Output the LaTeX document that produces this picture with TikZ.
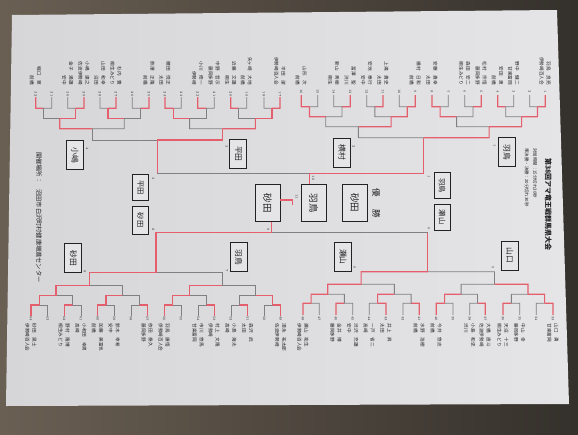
\documentclass[tikz,border=0pt]{standalone}
\usepackage{fontspec}
\newfontfamily\jp{Noto Sans CJK JP}
\usetikzlibrary{calc}
\definecolor{woodL}{HTML}{6A5F53}
\definecolor{woodR}{HTML}{34302B}
\definecolor{paperL}{HTML}{D6D6D9}
\definecolor{paperR}{HTML}{E5E5E8}
\definecolor{redl}{HTML}{E45E6C}
\definecolor{grayl}{HTML}{808083}
\definecolor{ink}{HTML}{222224}
\tikzset{
  win/.style={draw=redl,line width=1.15pt},
  lose/.style={draw=grayl,line width=0.85pt},
  nm/.style={font=\jp\fontsize{4.6}{5}\selectfont,rotate=-90,inner sep=0pt,text=ink},
  pnum/.style={font=\fontsize{3.4}{4}\selectfont,rotate=-90,inner sep=0pt,text=ink},
  bbox/.style={draw=ink,line width=0.85pt,fill=paperR,rotate=-90,inner sep=0pt,minimum width=29pt,minimum height=17pt,font=\jp\fontsize{7.8}{9}\selectfont,text=ink},
  sbox/.style={bbox,minimum width=26pt,minimum height=16pt,font=\jp\fontsize{7.3}{9}\selectfont},
  cbox/.style={bbox,minimum width=37pt,minimum height=25pt,font=\jp\fontsize{9.5}{11}\selectfont},
  ttl/.style={rotate=-90,inner sep=0pt,text=ink},
}
\newcommand\Mt[5]{%
  \draw[lose] (#3,#4) -- (#3,#5) -- ($(#1,#5)!.5!(#3,#5)$);
  \draw[win] (#1,#2) -- (#1,#5) -- ($(#1,#5)!.5!(#3,#5)$);
}
\newcommand\PlT[5]{%
  \node[pnum] (k#1) at (#2,#3) {#1};
  \node[nm,anchor=east] (n#1) at ({#2+3.3},85) {#4};
  \node[nm,anchor=east] (c#1) at ({#2-3.7},85) {#5};
}
\newcommand\PlE[3]{\node[pnum] (k#1) at (#2,#3) {#1};}
\newcommand\PlB[4]{%
  \node[pnum] (k#1) at (#2,318.8) {#1};
  \node[nm,anchor=west] (n#1) at ({#2+3.3},323.5) {#3};
  \node[nm,anchor=west] (c#1) at ({#2-3.7},323.5) {#4};
}
\newcommand\PlBE[2]{\node[pnum] (k#1) at (#2,318.8) {#1};}
\begin{document}
\begin{tikzpicture}[x=1pt,y=-1pt]
\useasboundingbox (0,0) rectangle (578,434);
\shade[left color=woodL,right color=woodR] (0,0) rectangle (578,434);
\shade[left color=paperL,right color=paperR] (12,15) -- (557,10) -- (569,404) -- (6,406) -- cycle;

% ---------- top right: players 1-16
\Mt{545.3}{95}{529.7}{95}{106.7}
\Mt{497.7}{95}{513.7}{95}{106.7}
\Mt{481.3}{95}{464.7}{95}{106.7}
\Mt{432}{95}{448.3}{95}{106.7}
\Mt{537.5}{106.7}{505.7}{106.7}{116.7}
\Mt{440.15}{106.7}{473}{106.7}{116.7}
\Mt{521.6}{116.7}{456.6}{116.7}{126.7}
\Mt{415.3}{95}{399.3}{95}{106.7}
\Mt{383}{95}{366.7}{95}{106.7}
\Mt{350.3}{95}{333.7}{95}{106.7}
\Mt{301.3}{95}{317.7}{95}{106.7}
\Mt{407.3}{106.7}{374.85}{106.7}{116.7}
\Mt{309.5}{106.7}{342}{106.7}{116.7}
\Mt{391.1}{116.7}{325.75}{116.7}{126.7}
\Mt{489.1}{126.7}{358.4}{126.7}{137.7}
% ---------- top left: players 17-32
\Mt{280}{97}{264}{97}{108.3}
\Mt{230.7}{97}{246.7}{97}{108.3}
\Mt{197.7}{97}{214.3}{97}{108.3}
\Mt{165}{97}{181.3}{97}{108.3}
\Mt{272}{108.3}{238.7}{108.3}{118.5}
\Mt{173.15}{108.3}{206}{108.3}{118.5}
\Mt{255.35}{118.5}{189.6}{118.5}{128.7}
\Mt{149}{97}{132.3}{97}{108.3}
\Mt{116}{97}{100}{97}{108.3}
\Mt{84}{97}{67.7}{97}{108.3}
\Mt{35.7}{97}{51.7}{97}{108.3}
\Mt{108}{108.3}{140.65}{108.3}{118.5}
\Mt{75.85}{108.3}{43.7}{108.3}{118.5}
\Mt{59.8}{118.5}{124.3}{118.5}{128.7}
\Mt{222.5}{128.7}{92.05}{128.7}{140}
% ---------- bottom right: players 33-48
\Mt{553}{315}{536.3}{315}{303.3}
\Mt{503}{315}{519.7}{315}{303.3}
\Mt{485.3}{315}{469.7}{315}{303.3}
\Mt{436.3}{315}{453}{315}{303.3}
\Mt{544.65}{303.3}{511.35}{303.3}{294.3}
\Mt{444.65}{303.3}{477.5}{303.3}{294.3}
\Mt{528}{294.3}{461.1}{294.3}{284.3}
\Mt{419.3}{315}{403}{315}{303.3}
\Mt{386}{315}{369.3}{315}{303.3}
\Mt{336}{315}{352.7}{315}{303.3}
\Mt{303}{315}{319.3}{315}{303.3}
\Mt{377.65}{303.3}{411.15}{303.3}{294.3}
\Mt{311.15}{303.3}{344.35}{303.3}{294.3}
\Mt{327.75}{294.3}{394.4}{294.3}{284.3}
\Mt{361.1}{284.3}{494.55}{284.3}{271.7}
% ---------- bottom left: players 49-64
\Mt{280.7}{316}{264.3}{316}{305}
\Mt{247.7}{316}{231}{316}{305}
\Mt{214.3}{316}{198.3}{316}{305}
\Mt{164.3}{316}{181}{316}{305}
\Mt{272.5}{305}{239.35}{305}{295.5}
\Mt{172.65}{305}{206.3}{305}{295.5}
\Mt{189.5}{295.5}{255.9}{295.5}{285.5}
\Mt{147.3}{316}{131}{316}{305}
\Mt{97.7}{316}{114.3}{316}{305}
\Mt{64.3}{316}{81}{316}{305}
\Mt{31}{316}{47.7}{316}{305}
\Mt{106}{305}{139.15}{305}{295.5}
\Mt{39.35}{305}{72.65}{305}{295.5}
\Mt{56}{295.5}{122.6}{295.5}{285.5}
\Mt{89.3}{285.5}{222.7}{285.5}{272.5}

% ---------- boxes
\node[bbox] (b1) at (507.2,152) {羽鳥};
\node[bbox] (b2) at (342.2,152.5) {横村};
\node[bbox] (b3) at (238.3,153.8) {平田};
\node[bbox] (b4) at (75,155) {小嶋};
\node[bbox] (b5) at (509.7,255.7) {山口};
\node[bbox] (b6) at (343,256.8) {瀬山};
\node[bbox] (b7) at (238.7,257.3) {羽鳥};
\node[bbox] (b8) at (73.3,258.3) {砂田};
\node[sbox] (s1) at (442.2,185.5) {羽鳥};
\node[sbox] (s2) at (442.2,217) {瀬山};
\node[sbox] (s3) at (140.3,187.7) {平田};
\node[sbox,minimum width=28pt] (s4) at (140.3,220) {砂田};
\node[cbox] (fL) at (267.5,203) {砂田};
\node[cbox] (fR) at (313.5,203) {羽鳥};
\node[cbox] (ch) at (354.8,202.7) {砂田};

% ---------- semifinals and final
\draw[lose] (157.3,173.3) -- (309.3,173.3);
\draw[win] (157.3,140) -- (157.3,173.3);
\draw[win] (423.75,137.7) -- (423.75,173.3) -- (309.3,173.3) -- (fR.west -| 309.3,0);
\draw[lose] (427.8,232.5) -- (271.7,232.5);
\draw[win] (427.8,271.7) -- (427.8,232.5);
\draw[win] (156,272.5) -- (156,232.5) -- (271.7,232.5) -- (fL.east -| 271.7,0);
\draw[win] (fL.north |- 0,200) -- (292.7,200) -- (292.7,205);

% ---------- small labels
\node[pnum] (bn1) at (494.7,145.7) {1};
\node[pnum] (bn2) at (353.7,146.7) {2};
\node[pnum] (bn3) at (226.7,146.7) {3};
\node[pnum] (bn4) at (87.3,149) {4};
\node[pnum] (bn5) at (493,267.3) {5};
\node[pnum] (bn6) at (354.7,267.3) {6};
\node[pnum] (bn7) at (226.7,270.7) {7};
\node[pnum] (bn8) at (85,271.3) {8};
\node[pnum] (sn1) at (429,176.7) {1};
\node[pnum] (sn2) at (429,228.3) {6};
\node[pnum] (sn3) at (153.3,178.3) {3};
\node[pnum] (sn4) at (153.3,230) {8};
\node[pnum] (cn1) at (313.3,178.3) {10};
\node[pnum] (cn2) at (268.3,230) {9};
\node[pnum] (cn3) at (296.7,196.7) {11};

% ---------- titles
\node[ttl,font=\jp\bfseries\fontsize{7}{8}\selectfont,anchor=west] (title) at (548.3,158) {第38回アマ竜王戦群馬県大会};
\node[ttl,font=\jp\fontsize{4.4}{5}\selectfont,anchor=west] (sub1) at (535,148.3) {対局時間：15分切れ30秒};
\node[ttl,font=\jp\fontsize{4.4}{5}\selectfont,anchor=west] (sub2) at (526.7,148.3) {準決勝・決勝：20分切れ30秒};
\node[ttl,font=\jp\fontsize{6.2}{7}\selectfont,anchor=west] (venue) at (39,152) {開催場所：　沼田市白沢町村健康増進センター};
\node[ttl,font=\jp\fontsize{8.5}{9}\selectfont] (yu1) at (376.3,192.7) {優};
\node[ttl,font=\jp\fontsize{8.5}{9}\selectfont] (yu2) at (376.3,213.3) {勝};

% ---------- players
\PlT{1}{545.3}{91.7}{羽鳥　良亮}{伊勢崎百人会}
\PlE{2}{529.7}{91.7}
\PlT{3}{513.7}{91.7}{野中　健二}{甘楽富岡}
\PlT{4}{497.7}{91.7}{安田　恵}{前橋}
\PlT{5}{481.3}{91.7}{松村　宗悟}{藤岡多野}
\PlT{6}{464.7}{91.7}{森田　安二}{桐生みどり}
\PlE{7}{448.3}{91.7}
\PlT{8}{432}{91.7}{安藤　貴幸}{太田}
\PlT{9}{415.3}{91.7}{横村　日和}{前橋}
\PlE{10}{399.3}{91.7}
\PlT{11}{383}{91.7}{上滝　貴史}{太田}
\PlT{12}{366.7}{91.7}{安池　泰行}{安中}
\PlT{13}{350.3}{91.7}{冨澤　聖}{渋川}
\PlT{14}{333.7}{91.7}{新山　秀樹}{桐生}
\PlE{15}{317.7}{91.7}
\PlT{16}{301.3}{91.7}{山形　次}{前橋}
\PlT{17}{280}{94}{平田　潔}{伊勢崎百人会}
\PlE{18}{264}{94}
\PlT{19}{246.7}{94}{矢ヶ崎　大地}{前橋}
\PlT{20}{230.7}{94}{近藤　文雄}{桐生}
\PlT{21}{214.3}{94}{中野　哲示}{藤岡多野}
\PlT{22}{197.7}{94}{小川　修一}{伊勢崎}
\PlE{23}{181.3}{94}
\PlT{24}{165}{94}{穂田　悦正}{太田}
\PlT{25}{149}{94}{熊澤　正隆}{前橋}
\PlE{26}{132.3}{94}
\PlT{27}{116}{94}{杉内　豊}{桐生みどり}
\PlT{28}{100}{94}{山田　和幸}{沼田}
\PlT{29}{84}{94}{小嶋　達之}{佐波伊勢崎}
\PlT{30}{67.7}{94}{金子　満雄}{安中}
\PlE{31}{51.7}{94}
\PlT{32}{35.7}{94}{堀口　翠}{前橋}
\PlB{33}{553}{山口　勇}{甘楽富岡}
\PlBE{34}{536.3}
\PlB{35}{519.7}{中山　幸}{藤岡多野}
\PlB{36}{503}{天沼　十三}{桐生みどり}
\PlB{37}{485.3}{大橋　直斗}{佐波伊勢崎}
\PlB{38}{469.7}{小島　和史}{渋川}
\PlBE{39}{453}
\PlB{40}{436.3}{今井　悠志}{前橋}
\PlB{41}{419.3}{水野　浩樹}{前橋}
\PlBE{42}{403}
\PlB{43}{386}{井上　昇}{太田}
\PlB{44}{369.3}{一戸　省二}{高崎}
\PlB{45}{352.7}{渋沢　充雄}{安中}
\PlB{46}{336}{金井　博}{藤岡多野}
\PlBE{47}{319.3}
\PlB{48}{303}{瀬山　祐生}{伊勢崎百人会}
\PlB{49}{280.7}{須永　祐太郎}{佐波伊勢崎}
\PlBE{50}{264.3}
\PlB{51}{247.7}{森沢　武}{太田}
\PlB{52}{231}{小島　海太}{高崎}
\PlB{53}{214.3}{村上　文隆}{伊勢崎}
\PlB{54}{198.3}{市川　悠馬}{甘楽富岡}
\PlBE{55}{181}
\PlB{56}{164.3}{羽鳥　康悟}{伊勢崎百人会}
\PlB{57}{147.3}{依田　泰久}{藤岡多野}
\PlBE{58}{131}
\PlB{59}{114.3}{鈴木　幸希}{安中}
\PlB{60}{97.7}{加藤　美富也}{前橋}
\PlB{61}{81}{小和田　幸男}{高崎}
\PlB{62}{64.3}{野村　隆博}{桐生みどり}
\PlBE{63}{47.7}
\PlB{64}{31}{砂田　晃士}{伊勢崎百人会}
\end{tikzpicture}
\end{document}
